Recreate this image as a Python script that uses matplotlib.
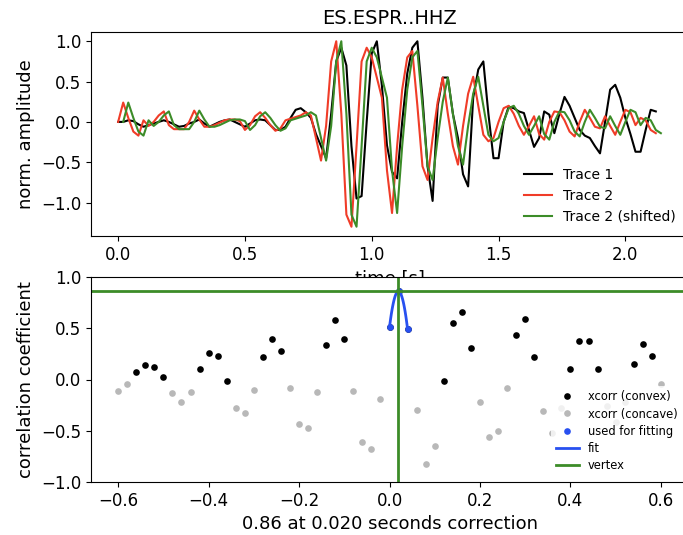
import numpy as np
import matplotlib
matplotlib.use("Agg")
import matplotlib.pyplot as plt

plt.rcParams['font.size'] = 12

# sampling interval of the traces and of the cross correlation [s]
dt = 0.02
shift = 0.02  # shift applied to trace 2

trace1 = [0.0, 0.0, 0.02, 0.01, -0.03, -0.06, -0.04, -0.02, 0.0, 0.02,
          0.0, -0.03, -0.06, -0.05, -0.02, 0.0, 0.03, -0.02, -0.06, -0.03,
          0.0, 0.02, 0.03, 0.0, -0.03, -0.06, -0.02, 0.02, 0.03, 0.02,
          -0.04, -0.1, -0.1, -0.06, 0.05, 0.15, 0.17, 0.12, 0.05, -0.15,
          -0.3, -0.45, 0.1, 0.75, 0.92, 0.7, -0.3, -0.95, -0.92, 0.0,
          0.85, 1.0, 0.45, -0.29, -0.62, -0.7, 0.0, 0.6, 0.92, 1.0,
          0.3, -0.55, -0.98, 0.2, 0.55, 0.55, 0.1, -0.2, -0.65, -0.8,
          0.3, 0.65, 0.75, 0.1, -0.45, -0.45, 0.0, 0.19, 0.17, 0.13,
          0.11, -0.1, -0.31, -0.2, 0.13, 0.09, -0.14, 0.1, 0.31, 0.2,
          0.05, -0.1, -0.17, -0.2, -0.3, -0.39, 0.0, 0.4, 0.46, 0.3,
          0.05, -0.15, -0.37, -0.37, -0.1, 0.15, 0.13]

trace2 = [0.0, 0.24, 0.05, -0.12, -0.17, 0.02, -0.05, 0.0, 0.08, 0.13,
          -0.04, -0.09, -0.09, -0.09, 0.0, 0.14, 0.03, -0.06, -0.06, -0.04,
          -0.01, 0.02, 0.03, 0.03, 0.01, -0.1, -0.04, 0.07, 0.12, 0.05,
          -0.04, -0.11, -0.08, 0.02, 0.04, 0.06, 0.08, 0.12, 0.08, -0.2,
          -0.48, -0.05, 0.75, 1.0, 0.1, -1.15, -1.3, -0.3, 0.75, 0.92,
          0.8, 0.55, 0.3, -0.6, -1.13, -0.3, 0.4, 0.8, 0.88, 0.2,
          -0.55, -0.72, -0.2, 0.25, 0.55, 0.1, -0.3, -0.53, -0.05, 0.35,
          0.56, 0.2, -0.16, -0.24, -0.2, 0.0, 0.17, 0.2, 0.1, -0.05,
          -0.16, -0.05, 0.07, -0.15, -0.22, 0.0, 0.13, 0.12, 0.02, -0.12,
          -0.18, 0.0, 0.15, 0.05, -0.06, -0.08, 0.07, -0.05, -0.16, 0.0,
          0.15, 0.12, -0.04, 0.05, 0.02, -0.1, -0.14]

# cross correlation coefficients, lag -0.6 .. 0.6 s
cc = [-0.11, -0.04, 0.07, 0.14, 0.12, 0.02, -0.13, -0.22, -0.12, 0.10,
      0.26, 0.23, -0.01, -0.28, -0.33, -0.10, 0.22, 0.40, 0.28, -0.08,
      -0.43, -0.47, -0.12, 0.34, 0.58, 0.40, -0.11, -0.61, -0.68, -0.19,
      0.51, 0.86, 0.49, -0.30, -0.82, -0.65, -0.01, 0.55, 0.66, 0.31,
      -0.22, -0.56, -0.50, -0.08, 0.43, 0.59, 0.22, -0.31, -0.52, -0.28,
      0.10, 0.38, 0.38, 0.10, -0.26, -0.41, -0.22, 0.15, 0.35, 0.23,
      -0.04]
convex = [0, 0, 1, 1, 1, 1, 0, 0, 0, 1,
          1, 1, 1, 0, 0, 0, 1, 1, 1, 0,
          0, 0, 0, 1, 1, 1, 0, 0, 0, 0,
          1, 1, 1, 0, 0, 0, 1, 1, 1, 1,
          0, 0, 0, 0, 1, 1, 1, 0, 0, 0,
          1, 1, 1, 1, 0, 0, 0, 1, 1, 1,
          0]
fit_first, fit_last = 30, 32
max_lag = 0.6

t1 = np.arange(len(trace1)) * dt
t2 = np.arange(len(trace2)) * dt
cc = np.array(cc)
convex = np.array(convex, dtype=bool)
cc_t = np.linspace(-max_lag, max_lag, len(cc))

fig = plt.figure(figsize=(6.83, 5.35), dpi=100)
ax1 = fig.add_axes([91 / 683, 299 / 535, 597 / 683, 204 / 535])
ax1.plot(t1, trace1, 'k', lw=1.5, label='Trace 1')
ax1.plot(t2, trace2, color='#f03c28', lw=1.5, label='Trace 2')
ax1.plot(t2 + shift, trace2, color='#3c8c28', lw=1.5, label='Trace 2 (shifted)')
ax1.legend(loc='lower right', fontsize=10, edgecolor='none')
ax1.set_title('ES.ESPR..HHZ', fontsize=14)
ax1.set_xlabel('time [s]', fontsize=13)
ax1.set_ylabel('norm. amplitude', fontsize=13)

ax2 = fig.add_axes([91 / 683, 53 / 535, 597 / 683, 205 / 535])
ax2.plot(cc_t, np.where(convex, cc, np.nan), ls='', marker='o', ms=4.8,
         mew=0, color='k', label='xcorr (convex)')
ax2.plot(cc_t, np.where(~convex, cc, np.nan), ls='', marker='o', ms=4.8,
         mew=0, color='0.72', label='xcorr (concave)')
sl = slice(fit_first, fit_last + 1)
ax2.plot(cc_t[sl], cc[sl], ls='', marker='o', ms=4.8, mew=0,
         color='#2850f0', label='used for fitting')
coeffs = np.polyfit(cc_t[sl], cc[sl], 2)
tt = np.linspace(cc_t[fit_first], cc_t[fit_last], 30)
ax2.plot(tt, np.polyval(coeffs, tt), color='#2850f0', lw=2, label='fit')
vx = -coeffs[1] / (2 * coeffs[0])
vy = np.polyval(coeffs, vx)
ax2.axvline(vx, color='#3c8c28', lw=2, label='vertex')
ax2.axhline(vy, color='#3c8c28', lw=2)
ax2.set_ylim(-1, 1)
ax2.set_xlabel('%.2f at %.3f seconds correction' % (vy, vx), fontsize=13)
ax2.set_ylabel('correlation coefficient', fontsize=13)
ax2.legend(loc='lower right', fontsize=8.3, edgecolor='none', labelspacing=0.35)

fig.savefig('out.png', dpi=100)
